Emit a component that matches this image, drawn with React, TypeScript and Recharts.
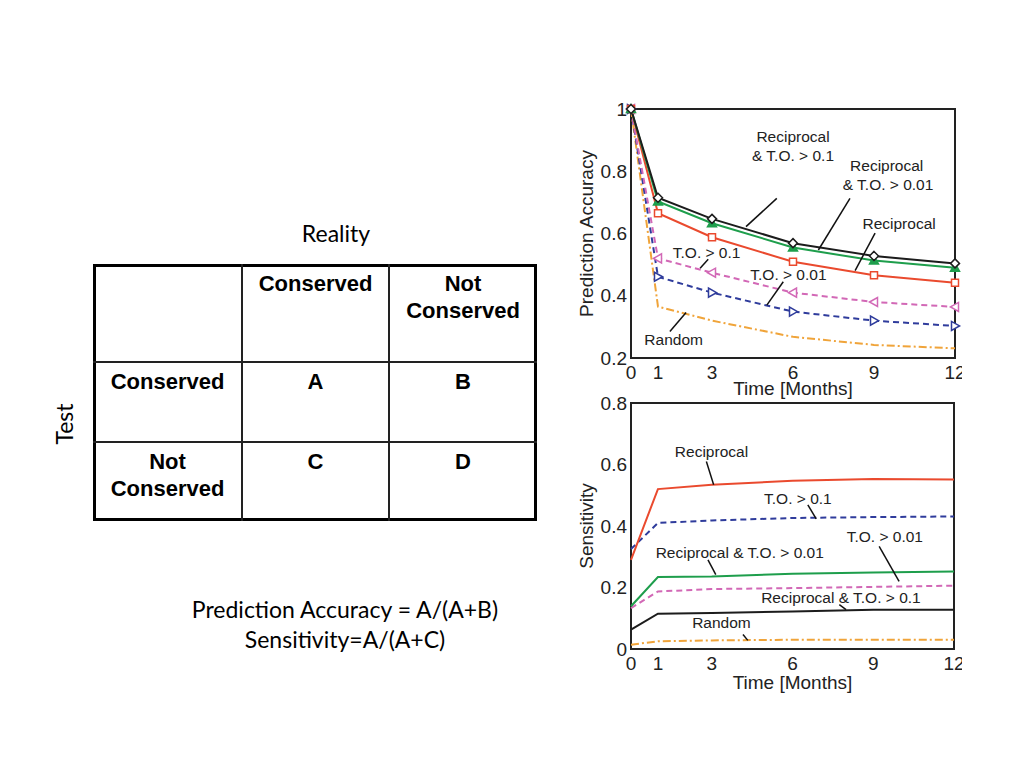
import {
  LineChart,
  Line,
  XAxis,
  YAxis,
  ReferenceArea,
  ReferenceLine,
  ReferenceDot,
  Label,
} from "recharts";

// months on the x axis
const months = [0, 1, 3, 6, 9, 12];

// prediction accuracy (top panel)
const accRecipTo01 = [1.0, 0.715, 0.647, 0.569, 0.528, 0.504];
const accRecipTo001 = [1.0, 0.703, 0.633, 0.555, 0.513, 0.49];
const accRecip = [1.0, 0.665, 0.588, 0.509, 0.466, 0.442];
const accTo01 = [1.0, 0.52, 0.474, 0.41, 0.38, 0.364];
const accTo001 = [1.0, 0.461, 0.41, 0.349, 0.32, 0.303];
const accRandom = [1.0, 0.365, 0.32, 0.268, 0.242, 0.231];

// sensitivity (bottom panel)
const senRecip = [0.29, 0.52, 0.534, 0.547, 0.553, 0.551];
const senTo01 = [0.325, 0.41, 0.418, 0.426, 0.429, 0.431];
const senRecipTo001 = [0.139, 0.234, 0.236, 0.245, 0.249, 0.252];
const senTo001 = [0.133, 0.187, 0.195, 0.198, 0.202, 0.206];
const senRecipTo01 = [0.063, 0.115, 0.117, 0.122, 0.128, 0.128];
const senRandom = [0.014, 0.025, 0.028, 0.03, 0.03, 0.03];

const accTicks = [0.2, 0.4, 0.6, 0.8, 1];
const senTicks = [0, 0.2, 0.4, 0.6, 0.8];

// annotation text, in data coordinates
const accNotes = [
  { text: "Reciprocal", x: 6.0, y: 0.911 },
  { text: "& T.O. > 0.1", x: 6.0, y: 0.85 },
  { text: "Reciprocal", x: 9.47, y: 0.818 },
  { text: "& T.O. > 0.01", x: 9.52, y: 0.758 },
  { text: "Reciprocal", x: 9.93, y: 0.633 },
  { text: "T.O. > 0.1", x: 2.8, y: 0.54 },
  { text: "T.O. > 0.01", x: 5.83, y: 0.467 },
  { text: "Random", x: 1.58, y: 0.26 },
];
const accLeaders = [
  [5.4, 0.713, 4.26, 0.622],
  [8.11, 0.713, 6.94, 0.547],
  [9.04, 0.601, 8.3, 0.481],
  [2.86, 0.517, 2.56, 0.488],
  [5.64, 0.445, 5.03, 0.37],
  [1.44, 0.285, 2.04, 0.346],
];
const senNotes = [
  { text: "Reciprocal", x: 2.99, y: 0.643 },
  { text: "T.O. > 0.1", x: 6.2, y: 0.491 },
  { text: "Reciprocal & T.O. > 0.01", x: 4.04, y: 0.314 },
  { text: "T.O. > 0.01", x: 9.43, y: 0.366 },
  { text: "Reciprocal & T.O. > 0.1", x: 7.8, y: 0.168 },
  { text: "Random", x: 3.36, y: 0.087 },
];
const senLeaders = [
  [2.8, 0.61, 3.07, 0.534],
  [6.57, 0.469, 6.88, 0.423],
  [2.86, 0.29, 3.15, 0.242],
  [9.22, 0.334, 9.96, 0.22],
  [7.74, 0.144, 7.99, 0.128],
  [4.16, 0.047, 4.34, 0.028],
];

const C = {
  black: "#1c1c1c",
  green: "#1e9e4c",
  red: "#ea4a2e",
  pink: "#d268b6",
  blue: "#2f3c9c",
  orange: "#f0a43a",
};

const accData = months.map((m, i) => ({
  m,
  a: accRecipTo01[i],
  b: accRecipTo001[i],
  c: accRecip[i],
  d: accTo01[i],
  e: accTo001[i],
  f: accRandom[i],
}));

const senData = months.map((m, i) => ({
  m,
  a: senRecipTo01[i],
  b: senRecipTo001[i],
  c: senRecip[i],
  d: senTo001[i],
  e: senTo01[i],
  f: senRandom[i],
}));

type DotProps = { cx?: number; cy?: number; index?: number };

const marker = (shape: string, color: string) => (props: DotProps) => {
  const { cx, cy, index } = props;
  if (cx == null || cy == null) return <g key={`n-${index}`} />;
  const s = 4.5;
  let d = "";
  if (shape === "diamond") d = `M${cx},${cy - s} L${cx + s},${cy} L${cx},${cy + s} L${cx - s},${cy} Z`;
  if (shape === "square") d = `M${cx - 3.5},${cy - 3.5} h7 v7 h-7 Z`;
  if (shape === "up") d = `M${cx},${cy - s} L${cx + s},${cy + 3.5} L${cx - s},${cy + 3.5} Z`;
  if (shape === "left") d = `M${cx - s},${cy} L${cx + 3.5},${cy - s} L${cx + 3.5},${cy + s} Z`;
  if (shape === "right") d = `M${cx + s},${cy} L${cx - 3.5},${cy - s} L${cx - 3.5},${cy + s} Z`;
  return (
    <path
      key={`${shape}-${index}`}
      d={d}
      fill={shape === "up" ? color : "#fff"}
      stroke={color}
      strokeWidth={1.5}
    />
  );
};

const tickStyle = { fontSize: 19, fill: "#222" };
const noteLabel = (text: string) => ({ value: text, position: "center" as const, fontSize: 15.5, fill: "#222" });

const fmt = (v: number) => (v === 0 || v === 1 ? String(v) : v.toFixed(1));

const TopChart = () => (
  <LineChart width={410} height={308} data={accData} margin={{ top: 14, right: 15, left: 0, bottom: 8 }}>
    <XAxis
      dataKey="m"
      type="number"
      domain={[0, 12]}
      ticks={months}
      tick={tickStyle}
      tickLine={false}
      axisLine={false}
      height={37}
    >
      <Label value="Time [Months]" position="insideBottom" offset={0} fontSize={19} fill="#222" />
    </XAxis>
    <YAxis
      type="number"
      domain={[0.2, 1]}
      ticks={accTicks}
      tickFormatter={fmt}
      tick={tickStyle}
      tickLine={false}
      axisLine={false}
      tickSize={4}
      tickMargin={0}
      width={71}
    >
      <Label
        value="Prediction Accuracy"
        angle={-90}
        position="insideLeft"
        offset={26}
        fontSize={19}
        fill="#222"
        style={{ textAnchor: "middle" }}
      />
    </YAxis>
    <ReferenceArea x1={0} x2={12} y1={0.2} y2={1} fill="none" fillOpacity={0} stroke="#222" strokeWidth={2} />
    <Line dataKey="f" stroke={C.orange} strokeWidth={2} strokeDasharray="8 3 2 3" dot={false} isAnimationActive={false} />
    <Line dataKey="e" stroke={C.blue} strokeWidth={2} strokeDasharray="6 4" dot={marker("right", C.blue)} isAnimationActive={false} />
    <Line dataKey="d" stroke={C.pink} strokeWidth={2} strokeDasharray="6 4" dot={marker("left", C.pink)} isAnimationActive={false} />
    <Line dataKey="c" stroke={C.red} strokeWidth={2} dot={marker("square", C.red)} isAnimationActive={false} />
    <Line dataKey="b" stroke={C.green} strokeWidth={2} dot={marker("up", C.green)} isAnimationActive={false} />
    <Line dataKey="a" stroke={C.black} strokeWidth={2} dot={marker("diamond", C.black)} isAnimationActive={false} />
    {accLeaders.map((l, i) => (
      <ReferenceLine
        key={`al-${i}`}
        segment={[{ x: l[0], y: l[1] }, { x: l[2], y: l[3] }]}
        stroke="#111"
        strokeWidth={1.5}
      />
    ))}
    {accNotes.map((n, i) => (
      <ReferenceDot key={`an-${i}`} x={n.x} y={n.y} r={1} fill="none" stroke="none" label={noteLabel(n.text)} />
    ))}
  </LineChart>
);

const BottomChart = () => (
  <LineChart width={410} height={307} data={senData} margin={{ top: 13, right: 16, left: 0, bottom: 8 }}>
    <XAxis
      dataKey="m"
      type="number"
      domain={[0, 12]}
      ticks={months}
      tick={tickStyle}
      tickLine={false}
      axisLine={false}
      height={40}
    >
      <Label value="Time [Months]" position="insideBottom" offset={0} fontSize={19} fill="#222" />
    </XAxis>
    <YAxis
      type="number"
      domain={[0, 0.8]}
      ticks={senTicks}
      tickFormatter={fmt}
      tick={tickStyle}
      tickLine={false}
      axisLine={false}
      tickSize={4}
      tickMargin={0}
      width={71}
    >
      <Label
        value="Sensitivity"
        angle={-90}
        position="insideLeft"
        offset={26}
        fontSize={19}
        fill="#222"
        style={{ textAnchor: "middle" }}
      />
    </YAxis>
    <ReferenceArea x1={0} x2={12} y1={0} y2={0.8} fill="none" fillOpacity={0} stroke="#222" strokeWidth={2} />
    <Line dataKey="f" stroke={C.orange} strokeWidth={2} strokeDasharray="8 3 2 3" dot={false} isAnimationActive={false} />
    <Line dataKey="a" stroke={C.black} strokeWidth={2} dot={false} isAnimationActive={false} />
    <Line dataKey="d" stroke={C.pink} strokeWidth={2} strokeDasharray="6 4" dot={false} isAnimationActive={false} />
    <Line dataKey="b" stroke={C.green} strokeWidth={2} dot={false} isAnimationActive={false} />
    <Line dataKey="e" stroke={C.blue} strokeWidth={2} strokeDasharray="6 4" dot={false} isAnimationActive={false} />
    <Line dataKey="c" stroke={C.red} strokeWidth={2} dot={false} isAnimationActive={false} />
    {senLeaders.map((l, i) => (
      <ReferenceLine
        key={`sl-${i}`}
        segment={[{ x: l[0], y: l[1] }, { x: l[2], y: l[3] }]}
        stroke="#111"
        strokeWidth={1.5}
      />
    ))}
    {senNotes.map((n, i) => (
      <ReferenceDot key={`sn-${i}`} x={n.x} y={n.y} r={1} fill="none" stroke="none" label={noteLabel(n.text)} />
    ))}
  </LineChart>
);

// confusion table layout
const colX = [93, 242, 389, 537];
const rowY = [264, 362, 442, 521];
const cells = [
  { r: 0, c: 1, lines: ["Conserved"] },
  { r: 0, c: 2, lines: ["Not", "Conserved"] },
  { r: 1, c: 0, lines: ["Conserved"] },
  { r: 1, c: 1, lines: ["A"] },
  { r: 1, c: 2, lines: ["B"] },
  { r: 2, c: 0, lines: ["Not", "Conserved"] },
  { r: 2, c: 1, lines: ["C"] },
  { r: 2, c: 2, lines: ["D"] },
];

const Table = () => (
  <>
    <div
      style={{
        position: "absolute",
        left: colX[0],
        top: rowY[0],
        width: colX[3] - colX[0],
        height: rowY[3] - rowY[0],
        border: "3px solid #000",
        boxSizing: "border-box",
      }}
    />
    {colX.slice(1, 3).map((x) => (
      <div key={`c${x}`} style={{ position: "absolute", left: x - 1, top: rowY[0], width: 1.5, height: rowY[3] - rowY[0], background: "#222" }} />
    ))}
    {rowY.slice(1, 3).map((y) => (
      <div key={`r${y}`} style={{ position: "absolute", left: colX[0], top: y - 1, width: colX[3] - colX[0], height: 1.5, background: "#222" }} />
    ))}
    {cells.map((cell, i) => (
      <div
        key={i}
        style={{
          position: "absolute",
          left: colX[cell.c],
          top: rowY[cell.r] + 6,
          width: colX[cell.c + 1] - colX[cell.c],
          textAlign: "center",
          fontFamily: "'Liberation Sans', Arial, sans-serif",
          fontWeight: "bold",
          fontSize: 22,
          lineHeight: "27px",
        }}
      >
        {cell.lines.map((t) => (
          <div key={t}>{t}</div>
        ))}
      </div>
    ))}
  </>
);

export default function App() {
  const calibri = "Lato, 'Open Sans', sans-serif";
  return (
    <div style={{ position: "absolute", left: 0, top: 0, width: 1024, height: 768, background: "#fff", overflow: "hidden" }}>
      <div style={{ position: "absolute", left: 236, top: 219, width: 200, textAlign: "center", fontFamily: calibri, fontSize: 23 }}>
        Reality
      </div>
      <div
        style={{
          position: "absolute",
          left: 64,
          top: 424,
          transform: "translate(-50%, -50%) rotate(-90deg)",
          fontFamily: calibri,
          fontSize: 23,
        }}
      >
        Test
      </div>
      <Table />
      <div
        style={{
          position: "absolute",
          left: 145,
          top: 594,
          width: 400,
          textAlign: "center",
          fontFamily: calibri,
          fontSize: 23,
          lineHeight: "30px",
        }}
      >
        <div>Prediction Accuracy = A/(A+B)</div>
        <div>Sensitivity=A/(A+C)</div>
      </div>
      <div
        style={{
          position: "absolute",
          left: 560,
          top: 95,
          width: 402,
          height: 305,
          overflow: "hidden",
          fontFamily: "'Liberation Sans', Arial, sans-serif",
        }}
      >
        <TopChart />
      </div>
      <div
        style={{
          position: "absolute",
          left: 560,
          top: 390,
          width: 402,
          height: 310,
          overflow: "hidden",
          fontFamily: "'Liberation Sans', Arial, sans-serif",
        }}
      >
        <BottomChart />
      </div>
    </div>
  );
}
